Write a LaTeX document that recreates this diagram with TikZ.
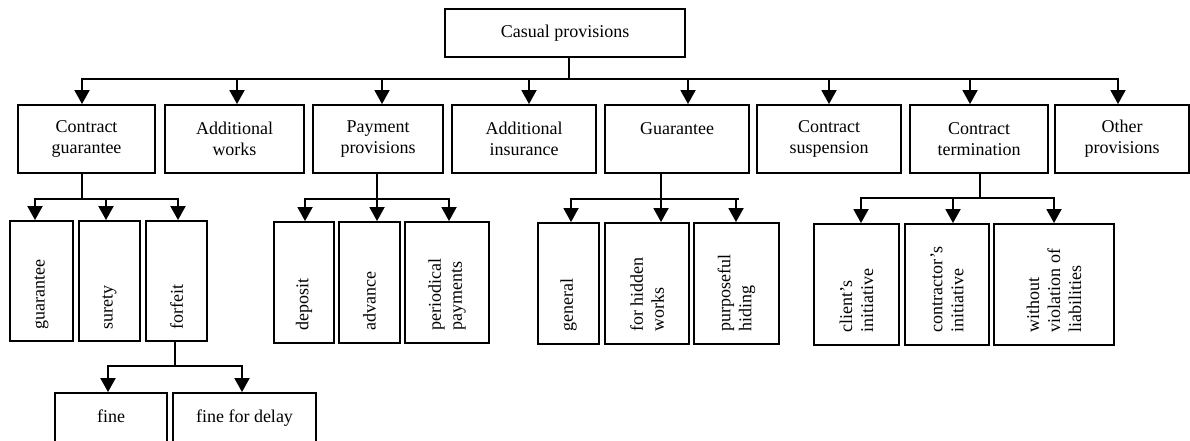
\documentclass[tikz,border=0pt]{standalone}
\usepackage{fontspec}
\setmainfont{Liberation Serif}
\usetikzlibrary{arrows.meta}
\newcommand{\vtxt}[1]{\rotatebox{90}{\parbox{96pt}{\raggedright #1}}}
\tikzset{
  box/.style={draw, line width=1.9pt, inner sep=0pt, align=center,
              font=\fontsize{18}{21}\selectfont},
  ln/.style={line width=1.9pt, line cap=rect},
  arr/.style={line width=1.9pt, -{Triangle[length=14pt,width=15pt]}},
}
\begin{document}
\begin{tikzpicture}[x=1pt,y=-1pt]
\useasboundingbox (0,0) rectangle (1190,441);
\clip (0,0) rectangle (1190,441);
\fill[white] (0,0) rectangle (1190,441);

% top
\node[box, minimum width=240pt, minimum height=48pt] (top) at (565,33) {Casual provisions};

% level 1
\node[box, minimum width=137pt, minimum height=68pt] (b1) at (86.5,139) {Contract\\guarantee};
\node[box, minimum width=139pt, minimum height=68pt] (b2) at (234.5,139) {Additional\\works};
\node[box, minimum width=130pt, minimum height=68pt] (b3) at (378,139) {Payment\\provisions};
\node[box, minimum width=144pt, minimum height=68pt] (b4) at (524,139) {Additional\\insurance};
\node[box, minimum width=144pt, minimum height=68pt] (b5) at (677,139) {Guarantee\\\mbox{}};
\node[box, minimum width=144pt, minimum height=68pt] (b6) at (829,139) {Contract\\suspension};
\node[box, minimum width=138pt, minimum height=68pt] (b7) at (979,139) {Contract\\termination};
\node[box, minimum width=134pt, minimum height=68pt] (b8) at (1122,139) {Other\\provisions};

% level 2: contract guarantee
\node[box, minimum width=63pt, minimum height=120pt] (g1) at (41.5,281) {\vtxt{guarantee}};
\node[box, minimum width=61pt, minimum height=120pt] (g2) at (109.5,281) {\vtxt{surety}};
\node[box, minimum width=61pt, minimum height=120pt] (g3) at (176.5,281) {\vtxt{forfeit}};
% payment
\node[box, minimum width=60pt, minimum height=121pt] (p1) at (304,282.5) {\vtxt{deposit}};
\node[box, minimum width=61pt, minimum height=121pt] (p2) at (369.5,282.5) {\vtxt{advance}};
\node[box, minimum width=84pt, minimum height=121pt] (p3) at (447,282.5) {\vtxt{periodical\\payments}};
% guarantee
\node[box, minimum width=61pt, minimum height=121pt] (q1) at (568.5,283.5) {\vtxt{general}};
\node[box, minimum width=84pt, minimum height=121pt] (q2) at (647,283.5) {\vtxt{for hidden\\works}};
\node[box, minimum width=85pt, minimum height=121pt] (q3) at (736.5,283.5) {\vtxt{purposeful\\hiding}};
% termination
\node[box, minimum width=85pt, minimum height=121pt] (t1) at (856.5,284.5) {\vtxt{client’s\\initiative}};
\node[box, minimum width=84pt, minimum height=121pt] (t2) at (947,284.5) {\vtxt{contractor’s\\initiative}};
\node[box, minimum width=120pt, minimum height=121pt] (t3) at (1054,284.5) {\vtxt{without\\violation of\\liabilities}};

% level 3: forfeit
\node[box, minimum width=112pt, minimum height=68pt] (f1) at (111,427) {fine\\\mbox{}};
\node[box, minimum width=143pt, minimum height=68pt] (f2) at (244.5,427) {fine for delay\\\mbox{}};

% main bus
\coordinate (s0) at (569,79);
\coordinate (k1) at (82,79);
\coordinate (k2) at (237,79);
\coordinate (k3) at (382,79);
\coordinate (k4) at (529,79);
\coordinate (k5) at (688,79);
\coordinate (k6) at (829,79);
\coordinate (k7) at (970,79);
\coordinate (k8) at (1118,79);
\draw[ln] (top.south -| s0) -- (s0);
\draw[ln] (k1) -- (k8);
\foreach \i in {1,...,8} { \draw[arr] (k\i) -- (k\i |- b\i.north); }

% contract guarantee group
\coordinate (cm) at (82,199);
\coordinate (c1) at (35,199);
\coordinate (c2) at (106,199);
\coordinate (c3) at (178,199);
\draw[ln] (b1.south -| cm) -- (cm);
\draw[ln] (c1) -- (c3);
\draw[arr] (c1) -- (c1 |- g1.north);
\draw[arr] (c2) -- (c2 |- g2.north);
\draw[arr] (c3) -- (c3 |- g3.north);

% payment group
\coordinate (pm) at (377,199);
\coordinate (d1) at (305,199);
\coordinate (d2) at (377,199);
\coordinate (d3) at (449,199);
\draw[ln] (b3.south -| pm) -- (pm);
\draw[ln] (d1) -- (d3);
\draw[arr] (d1) -- (d1 |- p1.north);
\draw[arr] (d2) -- (d2 |- p2.north);
\draw[arr] (d3) -- (d3 |- p3.north);

% guarantee group
\coordinate (qm) at (661,199);
\coordinate (e1) at (571,199);
\coordinate (e2) at (661,199);
\coordinate (e3) at (736,199);
\draw[ln] (b5.south -| qm) -- (qm);
\draw[ln] (e1) -- (738,199);
\draw[arr] (e1) -- (e1 |- q1.north);
\draw[arr] (e2) -- (e2 |- q2.north);
\draw[arr] (e3) -- (e3 |- q3.north);

% termination group
\coordinate (tm) at (980,198);
\coordinate (h1) at (861,198);
\coordinate (h2) at (953,198);
\coordinate (h3) at (1054,198);
\draw[ln] (b7.south -| tm) -- (tm);
\draw[ln] (h1) -- (h3);
\draw[arr] (h1) -- (h1 |- t1.north);
\draw[arr] (h2) -- (h2 |- t2.north);
\draw[arr] (h3) -- (h3 |- t3.north);

% forfeit group
\coordinate (fm) at (175,366);
\coordinate (m1) at (108,366);
\coordinate (m2) at (242,366);
\draw[ln] (g3.south -| fm) -- (fm);
\draw[ln] (m1) -- (m2);
\draw[arr] (m1) -- (m1 |- f1.north);
\draw[arr] (m2) -- (m2 |- f2.north);
\end{tikzpicture}
\end{document}
